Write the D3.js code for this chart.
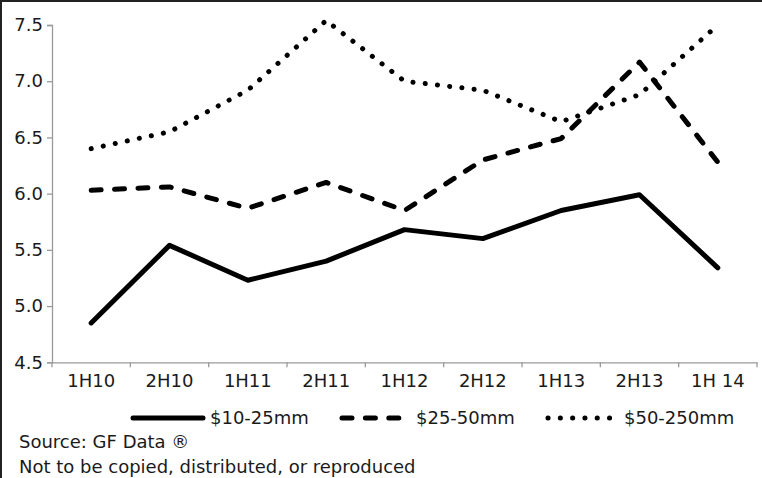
<!DOCTYPE html>
<html>
<head>
<meta charset="utf-8">
<script src="https://cdn.jsdelivr.net/npm/d3@7"></script>
<style>
  html, body { margin: 0; padding: 0; background: #fff; }
  svg { display: block; }
  text { font-family: "DejaVu Sans", sans-serif; fill: #1a1a1a; }
</style>
</head>
<body>
<svg id="chart" width="762" height="478"></svg>
<script>
// Half-year periods on the x axis
const periods = ["1H10", "2H10", "1H11", "2H11", "1H12", "2H12", "1H13", "2H13", "1H 14"];

// Values per deal-size bracket
const small  = [4.85, 5.54, 5.23, 5.40, 5.68, 5.60, 5.85, 5.99, 5.34];   // $10-25mm
const mid    = [6.03, 6.06, 5.87, 6.10, 5.85, 6.30, 6.49, 7.17, 6.28];   // $25-50mm
const large  = [6.40, 6.55, 6.92, 7.54, 7.00, 6.92, 6.64, 6.88, 7.50];   // $50-250mm

const seriesNames = ["$10-25mm", "$25-50mm", "$50-250mm"];
const yTicks = [4.5, 5.0, 5.5, 6.0, 6.5, 7.0, 7.5];

const series = [
  { name: seriesNames[0], values: small, dash: null,        cap: "round" },
  { name: seriesNames[1], values: mid,   dash: "10,13.4",   cap: "round" },
  { name: seriesNames[2], values: large, dash: "0.1,12.2",  cap: "round" }
];

const svg = d3.select("#chart");
const W = 762, H = 478;
const fontSize = 18;

// Frame on the top and left edges
svg.append("line").attr("x1", 0).attr("x2", W).attr("y1", 1).attr("y2", 1)
  .attr("stroke", "#222").attr("stroke-width", 2);
svg.append("line").attr("x1", 1).attr("x2", 1).attr("y1", 0).attr("y2", H)
  .attr("stroke", "#222").attr("stroke-width", 2);

const x = d3.scaleBand().domain(periods).range([52, 757]).padding(0);
const y = d3.scaleLinear().domain([4.5, 7.5]).range([362.3, 25]);
const axisColor = "#9a9a9a";

// Y axis
const yAxis = svg.append("g").attr("transform", "translate(52,0)")
  .call(d3.axisLeft(y).tickValues(yTicks).tickFormat(d3.format(".1f")).tickSize(5).tickPadding(4));
yAxis.select(".domain").attr("stroke", axisColor).attr("stroke-width", 1.3);
yAxis.selectAll(".tick line").attr("stroke", axisColor).attr("stroke-width", 1.3);
yAxis.selectAll(".tick text").attr("font-size", fontSize).attr("font-family", "DejaVu Sans, sans-serif")
  .attr("fill", "#1a1a1a");

// X axis: labels centred in bands, ticks on band boundaries
const xAxis = svg.append("g").attr("transform", `translate(0,${y(4.5)})`)
  .call(d3.axisBottom(x).tickSize(0).tickPadding(12));
xAxis.select(".domain").attr("stroke", axisColor).attr("stroke-width", 1.3);
xAxis.selectAll(".tick text").attr("font-size", fontSize).attr("font-family", "DejaVu Sans, sans-serif")
  .attr("fill", "#1a1a1a");
const bounds = periods.map(p => x(p)).concat([x(periods[periods.length - 1]) + x.bandwidth()]);
xAxis.selectAll(".bound").data(bounds).join("line")
  .attr("class", "bound")
  .attr("x1", d => d).attr("x2", d => d)
  .attr("y1", 0).attr("y2", 5)
  .attr("stroke", axisColor).attr("stroke-width", 1.3);

// Lines
const line = d3.line()
  .x((d, i) => x(periods[i]) + x.bandwidth() / 2)
  .y(d => y(d));

series.forEach(s => {
  svg.append("path")
    .datum(s.values)
    .attr("d", line)
    .attr("fill", "none")
    .attr("stroke", "#000")
    .attr("stroke-width", 5)
    .attr("stroke-linejoin", "round")
    .attr("stroke-linecap", s.cap)
    .attr("stroke-dasharray", s.dash);
});

// Legend
const legendY = 418;
const legendItems = [
  { s: series[0], x1: 133, x2: 203, tx: 210 },
  { s: series[1], x1: 342, x2: 407, tx: 416 },
  { s: series[2], x1: 548, x2: 613, tx: 624 }
];
legendItems.forEach(item => {
  svg.append("line")
    .attr("x1", item.x1).attr("x2", item.x2)
    .attr("y1", legendY).attr("y2", legendY)
    .attr("stroke", "#000").attr("stroke-width", 5)
    .attr("stroke-linecap", item.s.cap)
    .attr("stroke-dasharray", item.s.dash);
  svg.append("text")
    .attr("x", item.tx).attr("y", legendY)
    .attr("dy", "0.35em")
    .attr("font-size", fontSize)
    .text(item.s.name);
});

// Source notes
svg.append("text").attr("x", 19).attr("y", 448).attr("font-size", fontSize)
  .text("Source: GF Data ®");
svg.append("text").attr("x", 19).attr("y", 473).attr("font-size", fontSize)
  .text("Not to be copied, distributed, or reproduced");
</script>
</body>
</html>
